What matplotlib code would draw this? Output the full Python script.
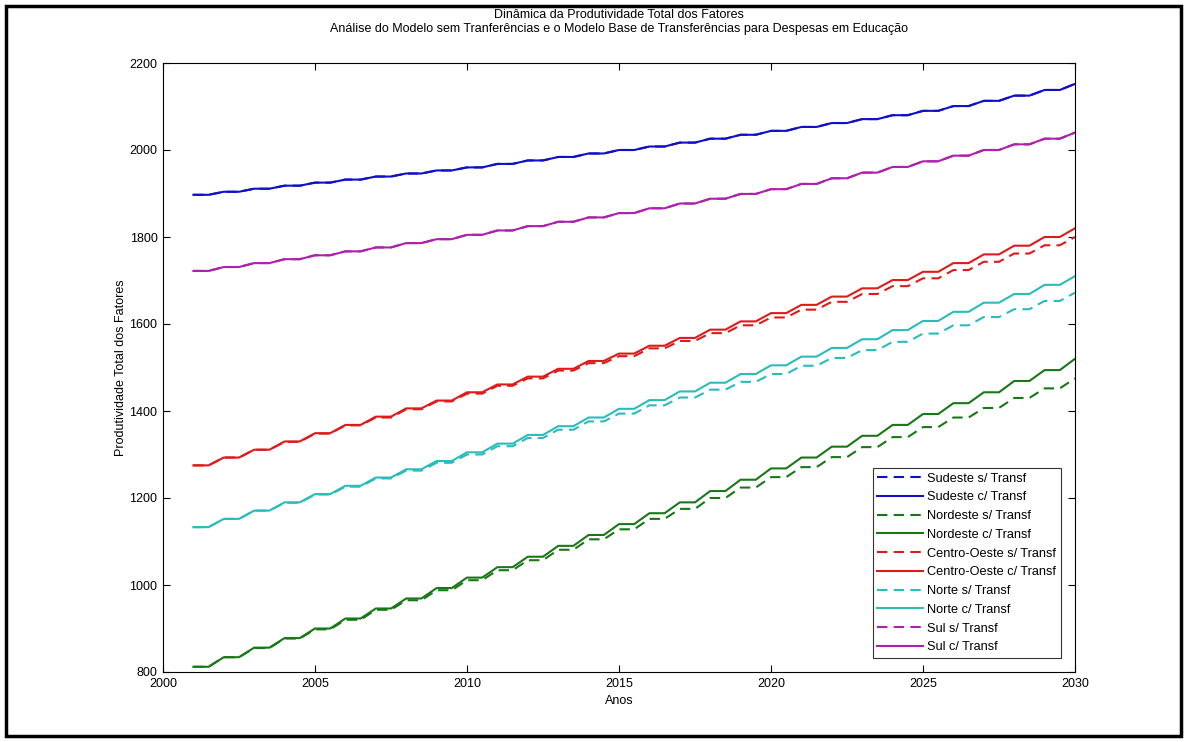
import numpy as np
import matplotlib
matplotlib.use("Agg")
import matplotlib.pyplot as plt
from matplotlib.patches import Rectangle

plt.rcParams['font.family'] = ['Liberation Sans', 'DejaVu Sans']

# Annual TFP values, 2001..2030
years = list(range(2001, 2031))

sudeste_s = [1897, 1904, 1911, 1918, 1925, 1932, 1939, 1946, 1953, 1960,
             1968, 1976, 1984, 1992, 2000, 2008, 2017, 2026, 2035, 2044,
             2053, 2062, 2071, 2080, 2090, 2101, 2113, 2125, 2138, 2152]
sudeste_c = list(sudeste_s)

nordeste_c = [812, 834, 856, 878, 900, 923, 946, 969, 993, 1017,
              1041, 1065, 1090, 1115, 1140, 1165, 1190, 1216, 1242, 1268,
              1293, 1318, 1343, 1368, 1393, 1418, 1443, 1469, 1494, 1520]
nordeste_s = [812, 834, 855, 877, 898, 920, 943, 965, 988, 1011,
              1034, 1057, 1081, 1105, 1128, 1152, 1175, 1200, 1224, 1248,
              1271, 1294, 1317, 1340, 1363, 1385, 1407, 1430, 1452, 1475]

centro_c = [1275, 1293, 1311, 1330, 1349, 1368, 1387, 1406, 1424, 1443,
            1461, 1479, 1497, 1515, 1532, 1550, 1568, 1587, 1606, 1625,
            1644, 1663, 1682, 1701, 1720, 1740, 1760, 1780, 1800, 1820]
centro_s = [1275, 1293, 1311, 1329, 1348, 1367, 1385, 1404, 1422, 1440,
            1458, 1475, 1493, 1510, 1526, 1544, 1561, 1579, 1597, 1615,
            1633, 1651, 1669, 1687, 1705, 1724, 1743, 1762, 1781, 1800]

norte_c = [1133, 1152, 1171, 1190, 1209, 1228, 1247, 1266, 1285, 1305,
           1325, 1345, 1365, 1385, 1405, 1425, 1445, 1465, 1485, 1505,
           1525, 1545, 1565, 1586, 1607, 1628, 1649, 1669, 1690, 1710]
norte_s = [1133, 1152, 1171, 1189, 1208, 1226, 1245, 1263, 1281, 1300,
           1319, 1338, 1357, 1376, 1394, 1413, 1431, 1449, 1467, 1485,
           1504, 1522, 1540, 1559, 1578, 1597, 1616, 1634, 1653, 1672]

sul_s = [1722, 1731, 1740, 1749, 1758, 1767, 1776, 1786, 1795, 1805,
         1815, 1825, 1835, 1845, 1855, 1866, 1877, 1888, 1899, 1910,
         1922, 1935, 1948, 1961, 1974, 1987, 2000, 2013, 2026, 2040]
sul_c = list(sul_s)

series = [
    ("Sudeste s/ Transf", sudeste_s, "#1010c8", "--"),
    ("Sudeste c/ Transf", sudeste_c, "#1010c8", "-"),
    ("Nordeste s/ Transf", nordeste_s, "#187818", "--"),
    ("Nordeste c/ Transf", nordeste_c, "#187818", "-"),
    ("Centro-Oeste s/ Transf", centro_s, "#de1a1a", "--"),
    ("Centro-Oeste c/ Transf", centro_c, "#de1a1a", "-"),
    ("Norte s/ Transf", norte_s, "#2abcbc", "--"),
    ("Norte c/ Transf", norte_c, "#2abcbc", "-"),
    ("Sul s/ Transf", sul_s, "#ac22ac", "--"),
    ("Sul c/ Transf", sul_c, "#ac22ac", "-"),
]


def half_year_steps(yrs, vals):
    # each annual value is held for half a year, then ramps to the next
    x = []
    y = []
    for i, (t, v) in enumerate(zip(yrs, vals)):
        x.append(t)
        y.append(v)
        if i < len(yrs) - 1:
            x.append(t + 0.5)
            y.append(v)
    return np.array(x), np.array(y)


fig = plt.figure(figsize=(11.87, 7.42), dpi=100)
ax = fig.add_axes([163 / 1187, 1 - 672 / 742, (1075 - 163) / 1187, (672 - 63) / 742])

for label, vals, color, ls in series:
    x, y = half_year_steps(years, vals)
    if ls == "--":
        ax.plot(x, y, color=color, linestyle=ls, dashes=(5, 3), linewidth=1.5, label=label)
    else:
        ax.plot(x, y, color=color, linestyle=ls, linewidth=1.5, label=label)

ax.set_xlim(2000, 2030)
ax.set_ylim(800, 2200)
ax.set_xticks(range(2000, 2031, 5))
ax.set_yticks(range(800, 2201, 200))
ax.tick_params(direction='in', top=True, right=True, length=5, width=0.8,
               labelsize=9, colors='black', pad=4)
for s in ax.spines.values():
    s.set_linewidth(0.8)

ax.set_xlabel("Anos", fontsize=9, labelpad=4)
ax.set_ylabel("Produtividade Total dos Fatores", fontsize=9, labelpad=2)
ax.set_title("Dinâmica da Produtividade Total dos Fatores\n"
             "Análise do Modelo sem Tranferências e o Modelo Base de Transferências para Despesas em Educação",
             fontsize=9, pad=22, linespacing=1.25)

leg = ax.legend(loc='lower right', fontsize=9.2, frameon=True, fancybox=False,
                edgecolor='black', borderaxespad=1.1, handlelength=3.6,
                labelspacing=0.53, handletextpad=0.35, borderpad=0.35)
leg.get_frame().set_linewidth(0.8)

# outer frame around the whole picture
fig.patches.append(Rectangle((6 / 1187, 6 / 742), 1 - 12 / 1187, 1 - 12 / 742,
                             transform=fig.transFigure, fill=False,
                             edgecolor='black', linewidth=2.5))

fig.savefig("out.png", dpi=100)
